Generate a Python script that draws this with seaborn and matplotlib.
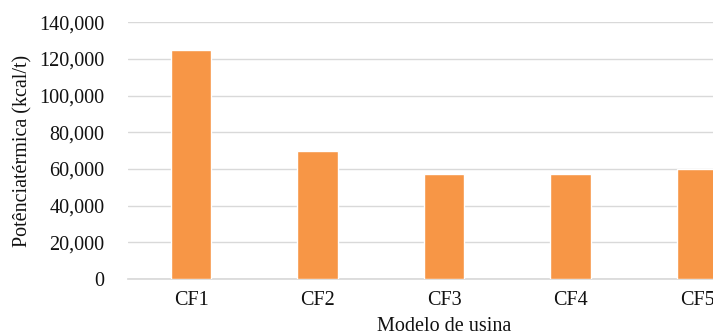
import matplotlib
matplotlib.use("Agg")
import matplotlib.pyplot as plt
from matplotlib.ticker import FuncFormatter, MultipleLocator
import seaborn as sns
import pandas as pd

# Thermal power per plant model
modelos = ["CF1", "CF2", "CF3", "CF4", "CF5"]
potencia = [125000, 70000, 57000, 57000, 60000]

df = pd.DataFrame({"Modelo": modelos, "Potencia": potencia})

sns.set_theme(style="white")
plt.rcParams["font.family"] = ["Liberation Serif", "DejaVu Serif"]

fig = plt.figure(figsize=(7.13, 3.34), dpi=100)
ax = fig.add_axes([0.1795, 0.1647, 0.887, 0.769])

sns.barplot(data=df, x="Modelo", y="Potencia", color="#F79646",
            saturation=1, width=0.32, ax=ax, zorder=3)

ax.set_ylim(0, 140000)
ax.set_xlim(-0.5, 4.5)
ax.yaxis.set_major_locator(MultipleLocator(20000))
ax.yaxis.set_major_formatter(FuncFormatter(lambda v, p: f"{int(v):,}"))
ax.grid(axis="y", color="#D9D9D9", linewidth=1, zorder=0)
for s in ["top", "right", "left"]:
    ax.spines[s].set_visible(False)
ax.spines["bottom"].set_color("#D9D9D9")
ax.tick_params(axis="both", length=0, labelsize=14.5, colors="#111111")
ax.tick_params(axis="y", pad=17)
ax.tick_params(axis="x", pad=9)

ax.set_xlabel("Modelo de usina", fontsize=14.5, color="#111111", labelpad=5)
ax.set_ylabel("Potênciatérmica (kcal/t)", fontsize=14.5, color="#111111", labelpad=5)

fig.savefig("out.png", dpi=100)
